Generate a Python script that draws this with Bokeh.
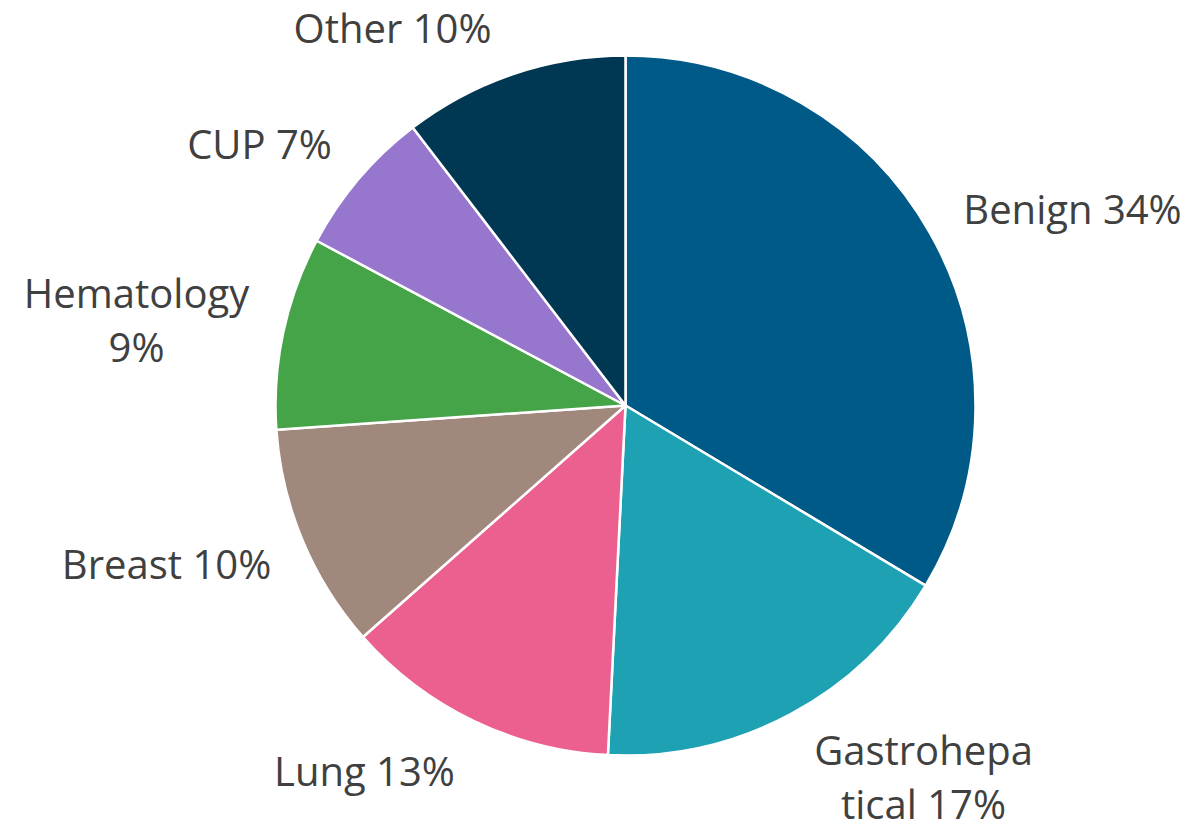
import numpy as np
from bokeh.plotting import figure
from bokeh.models import Range1d, ColumnDataSource
from bokeh.core.properties import value
from bokeh.embed import file_html
from bokeh.resources import INLINE

# Data
categories = ["Benign", "Gastrohepatical", "Lung", "Breast", "Hematology", "CUP", "Other"]
shares = [33.6, 17.2, 12.7, 10.4, 8.9, 6.8, 10.4]
label_texts = ["Benign 34%", "Gastrohepa\ntical 17%", "Lung 13%", "Breast 10%",
               "Hematology\n9%", "CUP 7%", "Other 10%"]
colors = ["#005A87", "#1FA1B4", "#EC608F", "#A0887D", "#45A348", "#9777CD", "#003753"]

# Layout (pixel-like data units, y measured upward)
W, H = 1189, 830
IMG_H = 830
cx, cy, r = 625, IMG_H - 405, 350
label_pos = [(1072, 208), (923, 776), (364, 770), (166, 563), (136, 319), (259, 143), (392, 27)]

vals = np.array(shares, dtype=float)
frac = vals / vals.sum()
cum_end = np.cumsum(frac)
cum_start = cum_end - frac
start_angle = np.pi / 2 - 2 * np.pi * cum_start
end_angle = np.pi / 2 - 2 * np.pi * cum_end

src = ColumnDataSource(dict(cat=categories, start=start_angle, end=end_angle, color=colors))

p = figure(width=W, height=H, output_backend="svg", toolbar_location=None,
           x_range=Range1d(0, W), y_range=Range1d(IMG_H - H, IMG_H),
           min_border=0)
p.axis.visible = False
p.grid.visible = False
p.outline_line_color = None
p.background_fill_color = "white"

p.wedge(x=cx, y=cy, radius=r, start_angle="start", end_angle="end", direction="clock",
        fill_color="color", line_color="white", line_width=2.5, source=src)

lsrc = ColumnDataSource(dict(x=[q[0] for q in label_pos], y=[IMG_H - q[1] for q in label_pos],
                             text=label_texts))
p.text(x="x", y="y", text="text", source=lsrc, text_align="center", text_baseline="middle",
       text_font=value("Open Sans"), text_font_size="40px", text_color="#404040",
       text_line_height=0.98)

open("out.html", "w").write(file_html(p, INLINE))
